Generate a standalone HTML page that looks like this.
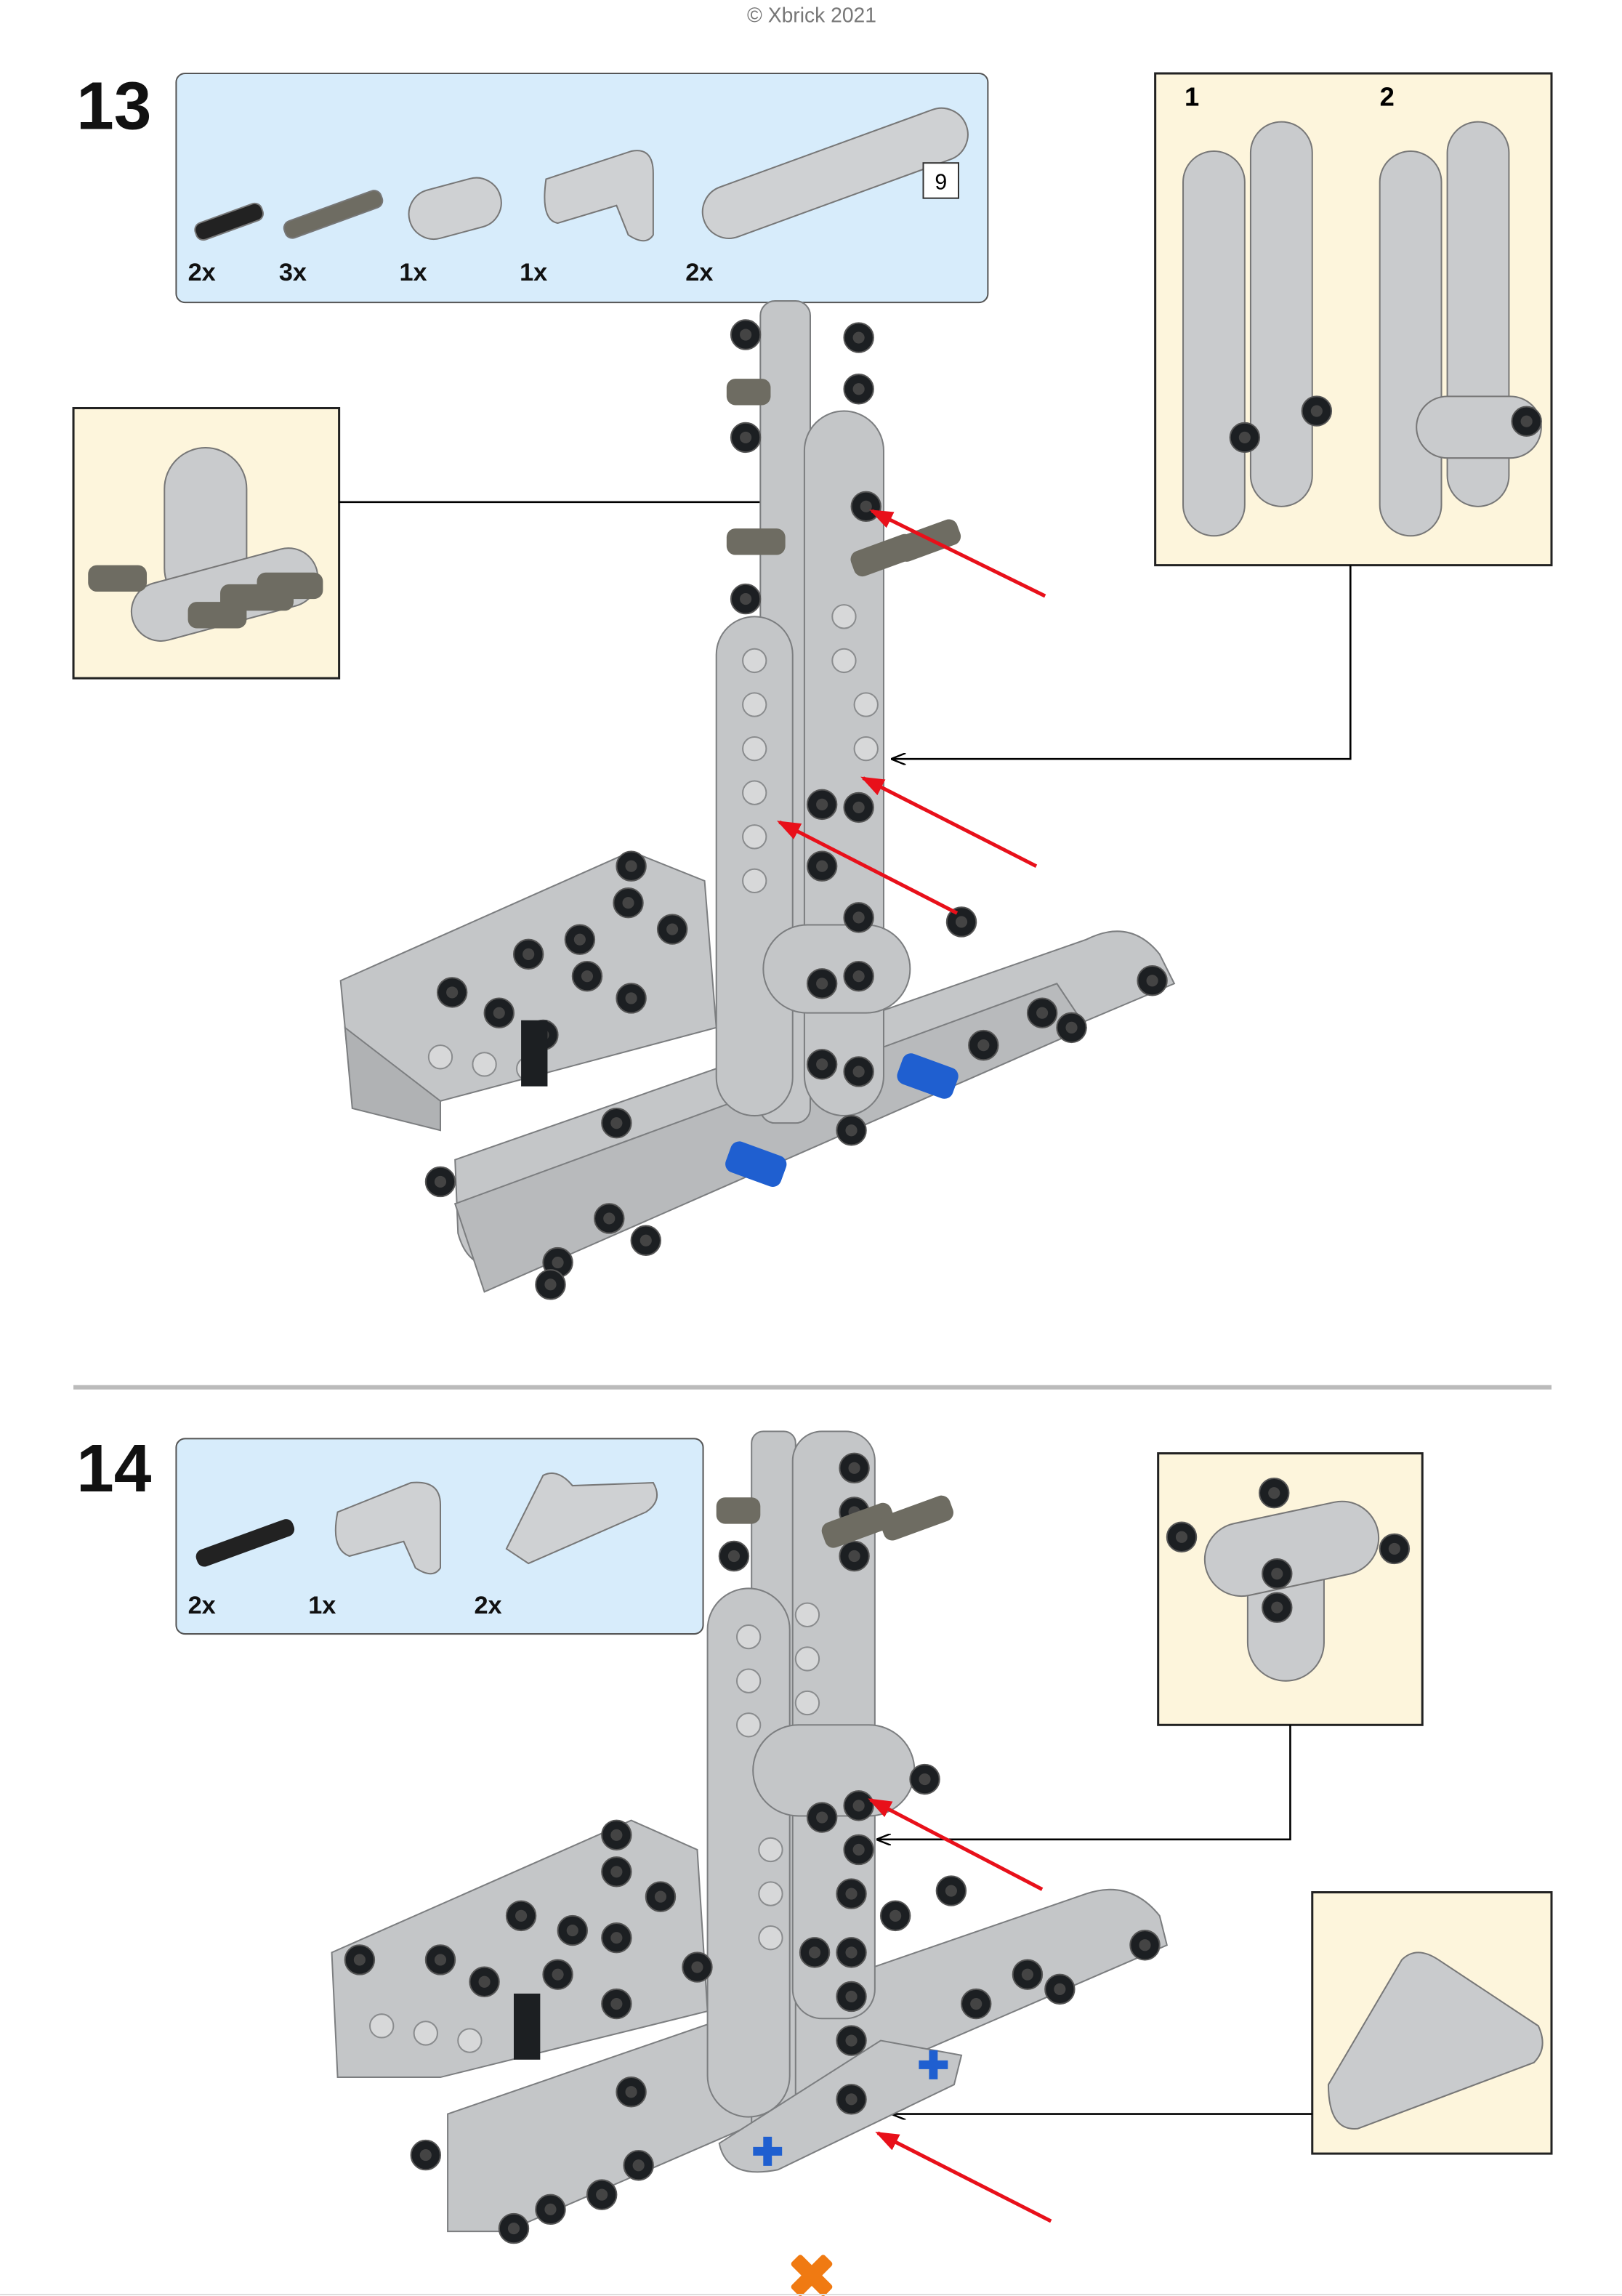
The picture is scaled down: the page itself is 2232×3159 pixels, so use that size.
<!DOCTYPE html>
<html><head><meta charset="utf-8"><style>
html,body{margin:0;padding:0;background:#fff;}
svg{display:block;}
text{font-family:"Liberation Sans",sans-serif;}
</style></head><body>
<svg width="2232" height="3159" viewBox="0 0 1105 1564" xmlns="http://www.w3.org/2000/svg">
<defs>
<marker id="ab" markerWidth="10" markerHeight="8" refX="9" refY="4" orient="auto" markerUnits="userSpaceOnUse"><path d="M0,0 L10,4 L0,8" fill="none" stroke="#000" stroke-width="1.2"/></marker>
<marker id="ar" markerWidth="16" markerHeight="12" refX="14" refY="6" orient="auto" markerUnits="userSpaceOnUse"><path d="M0,0 L16,6 L0,12 Z" fill="#e8101a"/></marker>
<g id="pin"><circle r="10" fill="#1c1f22" stroke="#555" stroke-width="1"/><circle r="4" fill="#444"/></g>
<g id="hole"><circle r="8" fill="#d7d8d9" stroke="#8a8c8e" stroke-width="1"/></g>
</defs>
<rect width="1105" height="1564" fill="#fff"/>
<text x="553" y="15" font-size="14" fill="#777" text-anchor="middle">© Xbrick 2021</text>

<!-- STEP 13 -->
<text x="52" y="88" font-size="46" font-weight="bold" fill="#111">13</text>
<rect x="120" y="50" width="553" height="156" rx="6" fill="#d7ecfb" stroke="#555" stroke-width="1"/>
<g fill="#cfd1d3" stroke="#777">
<rect x="132" y="145" width="48" height="12" rx="5" transform="rotate(-20 156 151)" fill="#222"/>
<rect x="192" y="140" width="70" height="12" rx="5" transform="rotate(-20 227 146)" fill="#6e6c62"/>
<rect x="278" y="125" width="64" height="34" rx="17" transform="rotate(-15 310 142)"/>
<path d="M372 122 L430 103 Q445 100 445 118 L445 160 Q440 168 428 160 L420 140 L380 152 Q368 150 372 122Z"/>
<rect x="474" y="100" width="190" height="36" rx="18" transform="rotate(-20 569 118)"/>
</g>
<rect x="629" y="111" width="24" height="24" fill="#fff" stroke="#333"/>
<text x="641" y="129" font-size="15" text-anchor="middle">9</text>
<g font-size="17" font-weight="bold" fill="#111"><text x="128" y="191">2x</text><text x="190" y="191">3x</text><text x="272" y="191">1x</text><text x="354" y="191">1x</text><text x="467" y="191">2x</text></g>

<!-- right callout -->
<rect x="787" y="50" width="270" height="335" fill="#fdf5dc" stroke="#222" stroke-width="1.5"/>
<text x="807" y="72" font-size="18" font-weight="bold">1</text><text x="940" y="72" font-size="18" font-weight="bold">2</text>
<g fill="#c9cbcd" stroke="#777">
<rect x="806" y="103" width="42" height="262" rx="21"/><rect x="852" y="83" width="42" height="262" rx="21"/>
<rect x="940" y="103" width="42" height="262" rx="21"/><rect x="986" y="83" width="42" height="262" rx="21"/>
<rect x="965" y="270" width="85" height="42" rx="21"/>
</g>
<use href="#pin" x="848" y="298"/><use href="#pin" x="897" y="280"/><use href="#pin" x="1040" y="287"/>

<!-- left callout -->
<rect x="50" y="278" width="181" height="184" fill="#fdf5dc" stroke="#222" stroke-width="1.5"/>
<g fill="#c9cbcd" stroke="#777">
<rect x="112" y="305" width="56" height="110" rx="28"/>
<rect x="88" y="385" width="130" height="40" rx="20" transform="rotate(-15 153 405)"/>
</g>
<g fill="#6e6c62"><rect x="60" y="385" width="40" height="18" rx="6"/><rect x="128" y="410" width="40" height="18" rx="6"/><rect x="150" y="398" width="50" height="18" rx="6"/><rect x="175" y="390" width="45" height="18" rx="6"/></g>

<line x1="231" y1="342" x2="560" y2="342" stroke="#000" stroke-width="1.3" marker-end="url(#ab)"/>
<polyline points="920,385 920,517 608,517" fill="none" stroke="#000" stroke-width="1.3" marker-end="url(#ab)"/>

<!-- model 13 -->
<g fill="#c4c6c8" stroke="#7c7e80" stroke-width="1">
<path d="M232 668 L430 580 L480 600 L488 700 L300 750 L240 752 Z"/>
<path d="M235 700 L300 750 L300 770 L240 755 Z" fill="#b0b2b4"/>
<path d="M310 790 L740 640 Q770 625 790 650 L800 670 L350 860 Q320 870 312 840 Z"/>
<path d="M310 820 L720 670 L740 700 L330 880 Z" fill="#b8babc"/>
<rect x="518" y="205" width="34" height="560" rx="10"/>
<rect x="548" y="280" width="54" height="480" rx="27"/>
<rect x="488" y="420" width="52" height="340" rx="26"/>
<rect x="520" y="630" width="100" height="60" rx="30"/>
</g>
<g>
<use href="#hole" x="514" y="450"/><use href="#hole" x="514" y="480"/><use href="#hole" x="514" y="510"/><use href="#hole" x="514" y="540"/><use href="#hole" x="514" y="570"/><use href="#hole" x="514" y="600"/>
<use href="#hole" x="575" y="420"/><use href="#hole" x="575" y="450"/><use href="#hole" x="590" y="480"/><use href="#hole" x="590" y="510"/>
<use href="#hole" x="300" y="720"/><use href="#hole" x="330" y="725"/><use href="#hole" x="360" y="728"/>
</g>
<g>
<use href="#pin" x="508" y="228"/><use href="#pin" x="585" y="230"/><use href="#pin" x="508" y="298"/><use href="#pin" x="585" y="265"/>
<use href="#pin" x="590" y="345"/><use href="#pin" x="508" y="408"/><use href="#pin" x="560" y="548"/><use href="#pin" x="585" y="550"/>
<use href="#pin" x="560" y="590"/><use href="#pin" x="585" y="625"/><use href="#pin" x="560" y="670"/><use href="#pin" x="585" y="665"/>
<use href="#pin" x="560" y="725"/><use href="#pin" x="585" y="730"/><use href="#pin" x="580" y="770"/>
<use href="#pin" x="430" y="590"/><use href="#pin" x="428" y="615"/><use href="#pin" x="458" y="633"/><use href="#pin" x="395" y="640"/><use href="#pin" x="360" y="650"/>
<use href="#pin" x="308" y="676"/><use href="#pin" x="340" y="690"/><use href="#pin" x="400" y="665"/><use href="#pin" x="430" y="680"/>
<use href="#pin" x="370" y="705"/><use href="#pin" x="420" y="765"/><use href="#pin" x="655" y="628"/>
<use href="#pin" x="785" y="668"/><use href="#pin" x="710" y="690"/><use href="#pin" x="730" y="700"/><use href="#pin" x="670" y="712"/>
<use href="#pin" x="300" y="805"/><use href="#pin" x="415" y="830"/><use href="#pin" x="440" y="845"/><use href="#pin" x="380" y="860"/><use href="#pin" x="375" y="875"/>
</g>
<rect x="355" y="695" width="18" height="45" fill="#1c1f22"/>
<g fill="#6e6c62"><rect x="495" y="258" width="30" height="18" rx="6"/><rect x="495" y="360" width="40" height="18" rx="6"/><rect x="580" y="370" width="45" height="18" rx="6" transform="rotate(-20 600 380)"/><rect x="610" y="360" width="45" height="18" rx="6" transform="rotate(-20 630 370)"/></g>
<g fill="#1f5fd0"><rect x="495" y="782" width="40" height="22" rx="6" transform="rotate(20 515 793)"/><rect x="612" y="722" width="40" height="22" rx="6" transform="rotate(20 632 733)"/></g>
<g stroke="#e8101a" stroke-width="2.5" marker-end="url(#ar)">
<line x1="712" y1="406" x2="594" y2="348"/><line x1="706" y1="590" x2="588" y2="530"/><line x1="652" y1="622" x2="531" y2="560"/>
</g>

<line x1="50" y1="945" x2="1057" y2="945" stroke="#bbb" stroke-width="3"/>

<!-- STEP 14 -->
<text x="52" y="1016" font-size="46" font-weight="bold" fill="#111">14</text>
<rect x="120" y="980" width="359" height="133" rx="6" fill="#d7ecfb" stroke="#555" stroke-width="1"/>
<rect x="132" y="1045" width="70" height="12" rx="5" transform="rotate(-20 167 1051)" fill="#222"/>
<path d="M230 1030 L280 1010 Q300 1008 300 1025 L300 1068 Q295 1076 283 1068 L275 1050 L238 1060 Q225 1055 230 1030Z" fill="#cfd1d3" stroke="#777"/>
<path d="M345 1055 L370 1005 Q380 1000 390 1012 L445 1010 Q452 1022 440 1030 L360 1065 Z" fill="#cfd1d3" stroke="#777"/>
<g font-size="17" font-weight="bold" fill="#111"><text x="128" y="1099">2x</text><text x="210" y="1099">1x</text><text x="323" y="1099">2x</text></g>

<rect x="789" y="990" width="180" height="185" fill="#fdf5dc" stroke="#222" stroke-width="1.5"/>
<g fill="#c9cbcd" stroke="#777"><rect x="850" y="1045" width="52" height="100" rx="26"/><rect x="820" y="1030" width="120" height="50" rx="25" transform="rotate(-12 880 1055)"/></g>
<use href="#pin" x="805" y="1047"/><use href="#pin" x="868" y="1017"/><use href="#pin" x="870" y="1072"/><use href="#pin" x="870" y="1095"/><use href="#pin" x="950" y="1055"/>

<rect x="894" y="1289" width="163" height="178" fill="#fdf5dc" stroke="#222" stroke-width="1.5"/>
<path d="M905 1420 L955 1335 Q965 1325 980 1335 L1048 1380 Q1055 1395 1045 1405 L925 1450 Q905 1452 905 1420Z" fill="#c9cbcd" stroke="#777"/>

<polyline points="879,1175 879,1253 598,1253" fill="none" stroke="#000" stroke-width="1.3" marker-end="url(#ab)"/>
<line x1="894" y1="1440" x2="608" y2="1440" stroke="#000" stroke-width="1.3" marker-end="url(#ab)"/>

<!-- model 14 -->
<g fill="#c4c6c8" stroke="#7c7e80" stroke-width="1">
<path d="M226 1330 L430 1240 L475 1260 L482 1370 L300 1415 L230 1415 Z"/>
<path d="M305 1440 L740 1290 Q770 1280 790 1305 L795 1325 L345 1520 L305 1520 Z"/>
<rect x="512" y="975" width="30" height="480" rx="8"/>
<rect x="540" y="975" width="56" height="400" rx="20"/>
<rect x="482" y="1082" width="56" height="360" rx="28"/>
<rect x="513" y="1175" width="110" height="62" rx="31"/>
<path d="M490 1460 L600 1390 L655 1400 L650 1420 L530 1478 Q495 1485 490 1460Z"/>
</g>
<g>
<use href="#hole" x="510" y="1115"/><use href="#hole" x="510" y="1145"/><use href="#hole" x="510" y="1175"/><use href="#hole" x="525" y="1260"/><use href="#hole" x="525" y="1290"/><use href="#hole" x="525" y="1320"/>
<use href="#hole" x="550" y="1100"/><use href="#hole" x="550" y="1130"/><use href="#hole" x="550" y="1160"/>
<use href="#hole" x="260" y="1380"/><use href="#hole" x="290" y="1385"/><use href="#hole" x="320" y="1390"/>
</g>
<g>
<use href="#pin" x="582" y="1000"/><use href="#pin" x="582" y="1030"/><use href="#pin" x="500" y="1060"/><use href="#pin" x="582" y="1060"/>
<use href="#pin" x="560" y="1238"/><use href="#pin" x="585" y="1230"/><use href="#pin" x="630" y="1212"/><use href="#pin" x="585" y="1260"/>
<use href="#pin" x="580" y="1290"/><use href="#pin" x="610" y="1305"/><use href="#pin" x="555" y="1330"/><use href="#pin" x="580" y="1330"/>
<use href="#pin" x="580" y="1360"/><use href="#pin" x="580" y="1390"/><use href="#pin" x="580" y="1430"/>
<use href="#pin" x="420" y="1250"/><use href="#pin" x="420" y="1275"/><use href="#pin" x="450" y="1292"/><use href="#pin" x="355" y="1305"/><use href="#pin" x="390" y="1315"/>
<use href="#pin" x="300" y="1335"/><use href="#pin" x="330" y="1350"/><use href="#pin" x="420" y="1320"/><use href="#pin" x="380" y="1345"/><use href="#pin" x="420" y="1365"/>
<use href="#pin" x="245" y="1335"/><use href="#pin" x="430" y="1425"/><use href="#pin" x="475" y="1340"/><use href="#pin" x="648" y="1288"/>
<use href="#pin" x="780" y="1325"/><use href="#pin" x="700" y="1345"/><use href="#pin" x="722" y="1355"/><use href="#pin" x="665" y="1365"/>
<use href="#pin" x="290" y="1468"/><use href="#pin" x="435" y="1475"/><use href="#pin" x="410" y="1495"/><use href="#pin" x="375" y="1505"/><use href="#pin" x="350" y="1518"/>
</g>
<rect x="350" y="1358" width="18" height="45" fill="#1c1f22"/>
<g fill="#6e6c62"><rect x="488" y="1020" width="30" height="18" rx="6"/><rect x="560" y="1030" width="50" height="18" rx="6" transform="rotate(-20 585 1040)"/><rect x="600" y="1025" width="50" height="18" rx="6" transform="rotate(-20 625 1035)"/></g>
<g font-size="26" font-weight="bold" fill="#1f5fd0"><text x="512" y="1475">✚</text><text x="625" y="1416">✚</text></g>
<g stroke="#e8101a" stroke-width="2.5" marker-end="url(#ar)">
<line x1="710" y1="1287" x2="593" y2="1226"/><line x1="716" y1="1513" x2="598" y2="1453"/>
</g>

<!-- logo -->
<g transform="translate(553 1550) rotate(45)" fill="#f07a12">
<rect x="-16" y="-5" width="32" height="10" rx="2"/><rect x="-5" y="-16" width="10" height="32" rx="2"/>
</g>
<line x1="0" y1="1563" x2="1105" y2="1563" stroke="#ddd" stroke-width="1"/>
</svg>
</body></html>
